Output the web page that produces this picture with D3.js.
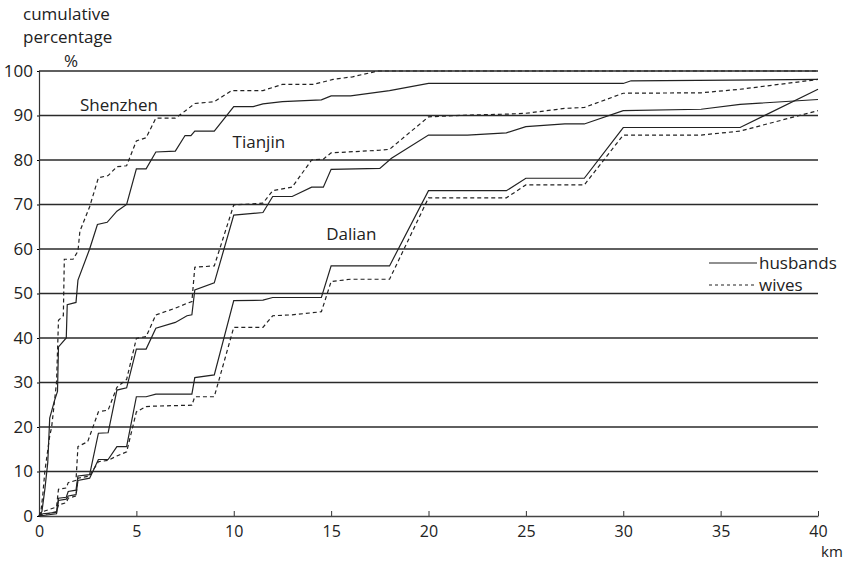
<!DOCTYPE html>
<html>
<head>
<style>
  body { margin: 0; background: #fff; }
  text { font-family: "Open Sans", sans-serif; fill: #222; }
</style>
<script src="https://d3js.org/d3.v7.min.js"></script>
</head>
<body>
<svg width="845" height="564"></svg>
<script>
// distance (km), cumulative percentage
var shenzhenHusbands = [[0,0],[0.15,1],[0.3,6],[0.45,12],[0.55,22],[0.8,26],[0.95,28],[1.0,38],[1.4,40],[1.45,47.5],[1.9,48],[2.0,53],[2.6,60],[3.0,65.5],[3.5,66],[4.0,68.5],[4.5,70],[5.0,78],[5.5,78],[6.0,81.8],[7.0,82],[7.5,85.5],[7.8,85.5],[8.0,86.5],[9.0,86.5],[10.0,92],[11.0,92],[11.5,92.6],[12.5,93.1],[14.5,93.5],[15,94.4],[16,94.4],[18,95.6],[20,97.2],[30,97.2],[30.4,97.8],[40,98.1]];
var shenzhenWives = [[0,0],[0.1,1],[0.2,5],[0.3,10],[0.55,18],[0.65,20],[0.8,26],[0.9,30],[1.0,44],[1.25,45],[1.3,57.7],[1.75,57.7],[2.0,59.5],[2.1,64],[2.6,69.5],[3.05,76],[3.55,76.5],[4.0,78.5],[4.5,78.7],[5.0,84.3],[5.5,85],[6.0,89.4],[7.0,89.4],[7.5,91],[8.0,92.7],[9.0,93.1],[9.9,95.6],[11.5,95.6],[12.5,97],[14.1,97],[15.1,98.1],[16.1,98.7],[17.4,100],[40,100]];
var tianjinHusbands = [[0,0],[0.2,0.5],[0.9,0.8],[1.0,4],[1.4,4.2],[1.5,5.5],[1.9,5.8],[2.0,9],[2.6,9.3],[3.05,18.6],[3.55,18.7],[4.0,28.3],[4.5,28.8],[5.0,37.5],[5.5,37.5],[6.0,42.2],[7.0,43.5],[7.6,45],[7.85,45.2],[8.0,50.8],[9.0,52.4],[10.0,67.6],[11.5,68.2],[12.0,71.8],[13.0,71.8],[14.0,73.9],[14.6,73.9],[15.0,77.9],[17.5,78.1],[18.1,80.4],[20,85.6],[22,85.6],[24,86.1],[25,87.5],[27,88.1],[28,88.1],[30,91.1],[34,91.4],[36,92.5],[40,93.6]];
var tianjinWives = [[0,0],[0.2,1],[0.9,2],[1.0,6],[1.4,6.3],[1.5,7.5],[1.9,8],[2.0,15.6],[2.5,16.7],[3.05,23.4],[3.55,23.8],[4.0,28.9],[4.5,30.7],[5.0,39.9],[5.5,40.3],[6.0,45.2],[7.0,46.7],[7.6,47.8],[7.85,48.2],[8.0,55.9],[9.0,56.2],[10.0,69.9],[11.5,70.3],[12.0,73.1],[13.0,73.9],[14.0,80.0],[14.6,80.2],[15.0,81.6],[17.5,82.2],[18.0,82.4],[20,89.7],[22,90.1],[24,90.3],[25,90.5],[27,91.6],[28,91.8],[30,95.0],[34,95.1],[36,95.9],[40,98.1]];
var dalianHusbands = [[0,0],[0.9,0.5],[1.0,3.5],[1.4,3.8],[1.5,4.5],[1.9,4.8],[2.0,8],[2.6,8.5],[3.05,12.7],[3.55,12.7],[4.0,15.6],[4.5,15.6],[5.0,26.8],[5.5,26.8],[6.0,27.4],[7.85,27.4],[8.0,31.1],[9.0,31.7],[10.0,48.4],[11.5,48.5],[12.0,49.1],[14.5,49.1],[15.0,56.2],[18.0,56.2],[20,73.1],[24,73.1],[25,75.9],[28,75.9],[30,87.3],[36,87.3],[40,95.9]];
var dalianWives = [[0,0],[0.9,1],[1.0,2.5],[1.4,3],[1.5,4],[1.9,4.5],[2.0,8.5],[2.6,9],[3.05,12.2],[3.55,12.5],[4.0,13.5],[4.5,14.4],[5.0,23.4],[5.5,24.6],[6.0,24.7],[7.85,24.9],[8.0,26.8],[9.0,26.8],[10.0,42.4],[11.5,42.4],[12.0,45.0],[13.0,45.2],[14.5,45.9],[15.0,52.7],[16.0,53.2],[18.0,53.2],[20,71.5],[24,71.5],[25,74.4],[28,74.4],[30,85.6],[34,85.6],[36,86.5],[40,91.1]];

var xTicks = [0, 5, 10, 15, 20, 25, 30, 35, 40];
var yTicks = [0, 10, 20, 30, 40, 50, 60, 70, 80, 90, 100];
var cityLabels = [["Shenzhen", 2.1, 91], ["Tianjin", 9.94, 82.6], ["Dalian", 14.75, 62.1]];
var legendItems = ["husbands", "wives"];

var svg = d3.select("svg");
var x = d3.scaleLinear().domain([0, 40]).range([39, 818]);
var y = d3.scaleLinear().domain([0, 100]).range([516, 71]);

// horizontal grid lines
svg.append("g")
   .selectAll("line")
   .data(yTicks.slice(1))
   .enter().append("line")
   .attr("x1", x(0)).attr("x2", x(40))
   .attr("y1", function(d) { return y(d); })
   .attr("y2", function(d) { return y(d); })
   .attr("stroke", "#2a2a2a")
   .attr("stroke-width", 1.4);

// x axis with inward ticks
var xAxis = svg.append("g")
   .attr("transform", "translate(0," + y(0) + ")")
   .call(d3.axisBottom(x).tickValues(xTicks).tickSizeInner(-5).tickSizeOuter(0).tickPadding(10));
xAxis.select(".domain").attr("stroke", "#444").attr("stroke-width", 1.4);
xAxis.selectAll(".tick line").attr("stroke", "#333");
xAxis.selectAll("text").style("font-size", "16px").attr("fill", "#222").attr("font-family", "Open Sans");

// y axis
var yAxis = svg.append("g")
   .attr("transform", "translate(" + x(0) + ",0)")
   .call(d3.axisLeft(y).tickValues(yTicks).tickSize(2).tickPadding(4));
yAxis.select(".domain").attr("stroke", "#333").attr("stroke-width", 1.2);
yAxis.selectAll("text").style("font-size", "17px").attr("fill", "#222").attr("font-family", "Open Sans");

// axis titles
svg.append("text").attr("x", 23).attr("y", 20).text("cumulative").style("font-size", "17px");
svg.append("text").attr("x", 23).attr("y", 43).text("percentage").style("font-size", "17px");
svg.append("text").attr("x", 64).attr("y", 67).text("%").style("font-size", "17px");
svg.append("text").attr("x", 821).attr("y", 557).text("km").style("font-size", "15px");

var line = d3.line()
   .x(function(d) { return x(d[0]); })
   .y(function(d) { return y(d[1]); });

var series = [
  [shenzhenHusbands, false], [shenzhenWives, true],
  [tianjinHusbands, false], [tianjinWives, true],
  [dalianHusbands, false], [dalianWives, true]
];

svg.append("g")
   .selectAll("path")
   .data(series)
   .enter().append("path")
   .attr("d", function(d) { return line(d[0]); })
   .attr("fill", "none")
   .attr("stroke", "#222")
   .attr("stroke-width", 1.2)
   .attr("stroke-dasharray", function(d) { return d[1] ? "4,3" : null; });

// city labels
svg.append("g")
   .selectAll("text")
   .data(cityLabels)
   .enter().append("text")
   .attr("x", function(d) { return x(d[1]); })
   .attr("y", function(d) { return y(d[2]); })
   .text(function(d) { return d[0]; })
   .style("font-size", "17px");

// legend
var legend = svg.append("g");
legendItems.forEach(function(name, i) {
  var ly = 263 + i * 22;
  legend.append("line")
        .attr("x1", 709).attr("x2", 757)
        .attr("y1", ly).attr("y2", ly)
        .attr("stroke", "#222").attr("stroke-width", 1.2)
        .attr("stroke-dasharray", i == 1 ? "3,3" : null);
  legend.append("text").attr("x", 759).attr("y", ly + 6).text(name).style("font-size", "17px");
});
</script>
</body>
</html>
